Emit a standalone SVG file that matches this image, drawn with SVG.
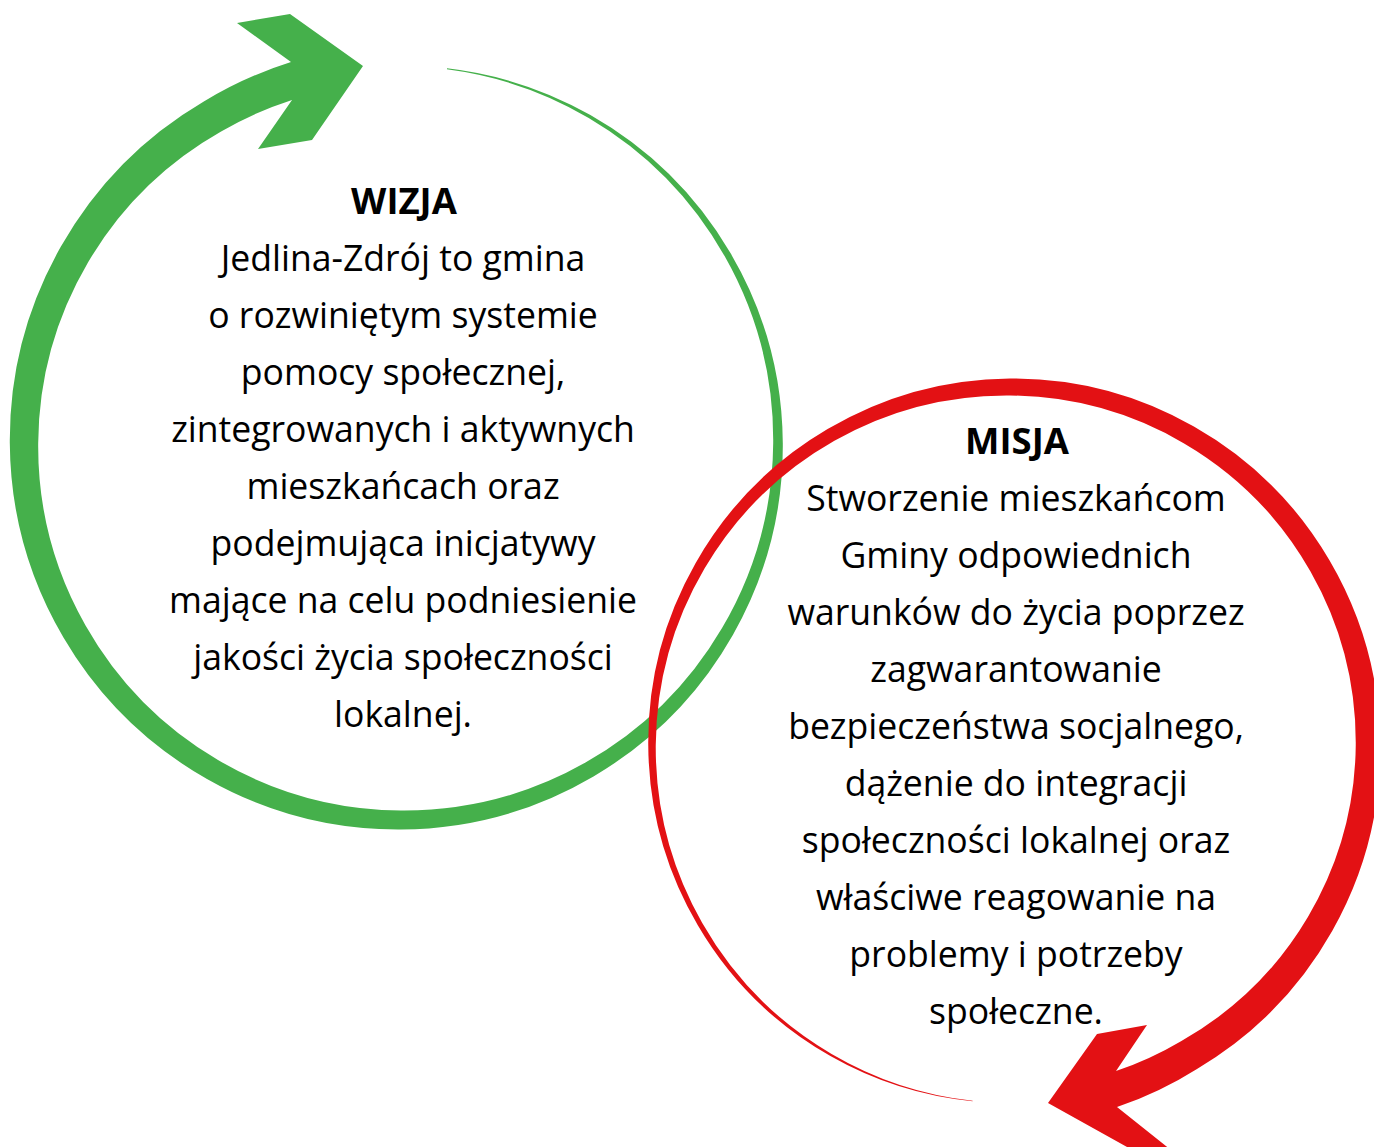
<svg xmlns="http://www.w3.org/2000/svg" width="1374" height="1147" viewBox="0 0 1374 1147">
<style>
.t{font-family:"Open Sans","Noto Sans","DejaVu Sans",sans-serif;font-size:35.6px;fill:#000;text-anchor:middle}
.h{font-weight:bold;font-size:36.5px}
.g{fill:#45B04B}
.r{fill:#E31114}
</style>
<rect width="1374" height="1147" fill="#fff"/>
<g id="connectors">
<path id="arrow-wizja" class="g" d="M 447.0 68.3 A 379 379 0 0 1 590.4 115.1 A 380 380 0 0 1 730.3 252.8 A 381 381 0 0 1 782.8 443 A 383 383 0 0 1 733.0 634.7 A 384 384 0 0 1 593.5 776.4 A 386 386 0 0 1 401 829.5 A 387 387 0 0 1 207 779 A 389 389 0 0 1 63.6 637.8 A 390 390 0 0 1 9.8 443 A 392 392 0 0 1 60.9 246.6 A 393 393 0 0 1 203.8 101.5 A 395 395 0 0 1 291 62 L 237 23 L 290 14 L 363 66 L 312 140 L 258 149 L 292 100 A 360 360 0 0 0 221.1 131.5 A 360 360 0 0 0 88.1 262.3 A 362 362 0 0 0 38.2 443 A 363 363 0 0 0 85.4 625.2 A 365 365 0 0 0 218 760 A 366 366 0 0 0 401 810.5 A 368 368 0 0 0 585.5 762.6 A 370 370 0 0 0 721.9 628.3 A 371 371 0 0 0 773.2 443 A 373 373 0 0 0 724.6 256.1 A 374 374 0 0 0 588.7 118.0 A 376 376 0 0 0 446.9 69.3 Z"/>
<path id="arrow-misja" class="r" d="M 972.6 1101.3 A 359 359 0 0 1 830.4 1056.1 A 360 360 0 0 1 697.8 925.25 A 361 361 0 0 1 648.25 745 A 362 362 0 0 1 695.4 563.4 A 364 364 0 0 1 827.6 429.1 A 366 366 0 0 1 1010 378.5 A 367 367 0 0 1 1193.9 426.5 A 368 368 0 0 1 1329.6 560.5 A 370 370 0 0 1 1380.25 745 A 371 371 0 0 1 1332.2 931 A 373 373 0 0 1 1197 1068.9 A 376 376 0 0 1 1117 1107 L 1181 1158 L 1136 1152 L 1048 1103 L 1097 1034 L 1147 1025 L 1116 1071 A 343 343 0 0 0 1181 1041.2 A 343 343 0 0 0 1307.9 917 A 345 345 0 0 0 1355.75 745 A 346 346 0 0 0 1310.5 571.5 A 348 348 0 0 0 1184.1 443.4 A 349 349 0 0 0 1010 395.5 A 350 350 0 0 0 834.4 440.8 A 352 352 0 0 0 704.5 568.6 A 354 354 0 0 0 655.75 745 A 355 355 0 0 0 702.1 922.75 A 356 356 0 0 0 831.6 1053.95 A 357 357 0 0 0 972.6 1100.8 Z"/>
</g>
<g id="wizja">
<text class="t h" x="404" y="214">WIZJA</text>
<text class="t" x="403" y="271">Jedlina-Zdrój to gmina</text>
<text class="t" x="403" y="328">o rozwiniętym systemie</text>
<text class="t" x="403" y="385">pomocy społecznej,</text>
<text class="t" x="403" y="442">zintegrowanych i aktywnych</text>
<text class="t" x="403" y="499">mieszkańcach oraz</text>
<text class="t" x="403" y="556">podejmująca inicjatywy</text>
<text class="t" x="403" y="613">mające na celu podniesienie</text>
<text class="t" x="403" y="670">jakości życia społeczności</text>
<text class="t" x="403" y="727">lokalnej.</text>
</g>
<g id="misja">
<text class="t h" x="1017" y="454">MISJA</text>
<text class="t" x="1016" y="511">Stworzenie mieszkańcom</text>
<text class="t" x="1016" y="568">Gminy odpowiednich</text>
<text class="t" x="1016" y="625">warunków do życia poprzez</text>
<text class="t" x="1016" y="682">zagwarantowanie</text>
<text class="t" x="1016" y="739">bezpieczeństwa socjalnego,</text>
<text class="t" x="1016" y="796">dążenie do integracji</text>
<text class="t" x="1016" y="853">społeczności lokalnej oraz</text>
<text class="t" x="1016" y="910">właściwe reagowanie na</text>
<text class="t" x="1016" y="967">problemy i potrzeby</text>
<text class="t" x="1016" y="1024">społeczne.</text>
</g>
</svg>
